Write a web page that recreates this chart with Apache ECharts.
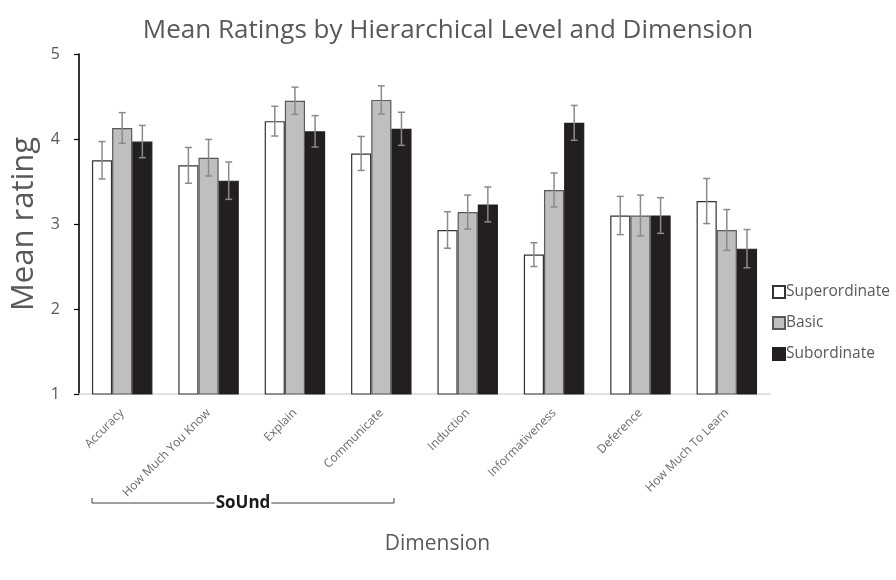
<!DOCTYPE html>
<html><head><meta charset="utf-8">
<script src="https://cdn.jsdelivr.net/npm/echarts@6/dist/echarts.min.js"></script>
<style>html,body{margin:0;padding:0;background:#fff}#c{width:896px;height:580px}</style>
</head><body><div id="c"></div>
<script>
const categories = ['Accuracy','How Much You Know','Explain','Communicate','Induction','Informativeness','Deference','How Much To Learn'];
const seriesNames = ['Superordinate','Basic','Subordinate'];
const superordinate = [3.75, 3.69, 4.21, 3.83, 2.93, 2.64, 3.10, 3.27];
const basic         = [4.13, 3.78, 4.45, 4.46, 3.14, 3.40, 3.10, 2.93];
const subordinate   = [3.97, 3.51, 4.09, 4.12, 3.23, 4.19, 3.10, 2.71];
const superordinateErr = [0.22, 0.21, 0.175, 0.20, 0.215, 0.14, 0.225, 0.265];
const basicErr         = [0.18, 0.215, 0.16, 0.165, 0.20, 0.20, 0.24, 0.24];
const subordinateErr   = [0.19, 0.22, 0.185, 0.195, 0.205, 0.205, 0.21, 0.225];
const yMin = 1, yMax = 5, yStep = 1;
const groupLabel = 'SoUnd';

const values = [superordinate, basic, subordinate];
const errors = [superordinateErr, basicErr, subordinateErr];
const fills = ['#ffffff', '#bfbfbf', '#231f20'];
const borders = ['#333333', '#595959', '#231f20'];
const FONT = 'Open Sans';
const CAT_GAP = 0.30;

function errRender(k) {
  return function (params, api) {
    const i = api.value(0), v = api.value(1), e = api.value(2);
    const band = api.size([1, 0])[0];
    const bw = band * (1 - CAT_GAP) / 3;
    const off = (k - 1) * bw;
    const top = api.coord([i, v + e]);
    const bot = api.coord([i, v - e]);
    const x = top[0] + off;
    const cap = 3.5;
    const st = { stroke: '#8a8a8a', lineWidth: 1.5 };
    return { type: 'group', children: [
      { type: 'line', shape: { x1: x, y1: top[1], x2: x, y2: bot[1] }, style: st },
      { type: 'line', shape: { x1: x - cap, y1: top[1], x2: x + cap, y2: top[1] }, style: st },
      { type: 'line', shape: { x1: x - cap, y1: bot[1], x2: x + cap, y2: bot[1] }, style: st }
    ]};
  };
}

const series = [];
seriesNames.forEach((n, k) => {
  series.push({
    name: n, type: 'bar', data: values[k],
    barGap: '0%', barCategoryGap: (CAT_GAP * 100) + '%',
    itemStyle: { color: fills[k], borderColor: borders[k], borderWidth: 1.2 },
    z: 2
  });
});
seriesNames.forEach((n, k) => {
  series.push({
    name: n + ' error', type: 'custom', z: 5,
    renderItem: errRender(k),
    data: values[k].map((v, i) => [i, v, errors[k][i]])
  });
});

const chart = echarts.init(document.getElementById('c'), null, { renderer: 'canvas' });
chart.setOption({
  animation: false,
  backgroundColor: '#ffffff',
  textStyle: { fontFamily: FONT },
  title: {
    text: 'Mean Ratings by Hierarchical Level and Dimension',
    left: 'center', top: 13,
    textStyle: { fontFamily: FONT, fontSize: 26, fontWeight: 'normal', color: '#595959' }
  },
  legend: {
    data: seriesNames, orient: 'vertical', left: 767, top: 279,
    icon: 'rect', itemWidth: 12, itemHeight: 12, itemGap: 15,
    textStyle: { fontFamily: FONT, fontSize: 15.5, color: '#595959', padding: [0, 0, 0, -4] }
  },
  grid: { left: 79, right: 126, top: 54, bottom: 186 },
  xAxis: {
    type: 'category', data: categories,
    name: 'Dimension', nameLocation: 'middle', nameGap: 140,
    nameTextStyle: { fontFamily: FONT, fontSize: 21, color: '#595959', padding: [0, 0, 0, 26] },
    axisLine: { lineStyle: { color: '#d9d9d9', width: 1.5 } },
    axisTick: { show: false },
    axisLabel: { interval: 0, rotate: 45, fontSize: 12, color: '#6a6a6a', margin: 17 }
  },
  yAxis: {
    type: 'value', min: yMin, max: yMax, interval: yStep,
    name: 'Mean rating', nameLocation: 'middle', nameGap: 38, nameRotate: 90,
    nameTextStyle: { fontFamily: FONT, fontSize: 31, color: '#595959' },
    axisLine: { show: true, lineStyle: { color: '#000000', width: 1.6 } },
    axisTick: { show: true, length: 5, lineStyle: { color: '#000000', width: 1.2 } },
    axisLabel: { fontSize: 16, color: '#595959', margin: 19 },
    splitLine: { show: false }
  },
  series: series
});

// SoUnd bracket annotation
const bx1 = 92, bx2 = 394, by = 503;
chart.setOption({
  graphic: [
    { type: 'polyline', shape: { points: [[bx1, by - 5], [bx1, by], [bx2, by], [bx2, by - 5]] },
      style: { stroke: '#404040', lineWidth: 1, fill: null } },
    { type: 'text', x: (bx1 + bx2) / 2, y: by,
      style: { text: groupLabel, fontFamily: FONT, fontSize: 17, fontWeight: 'bold', fill: '#1a1a1a',
               align: 'center', verticalAlign: 'middle', backgroundColor: '#ffffff', padding: [0, 1] } }
  ]
});
</script></body></html>
